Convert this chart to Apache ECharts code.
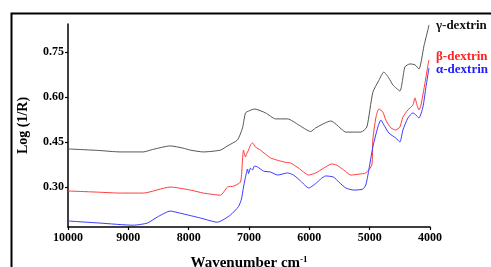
<!DOCTYPE html>
<html>
<head>
<meta charset="utf-8">
<script src="https://cdn.jsdelivr.net/npm/echarts@6/dist/echarts.min.js"></script>
<style>html,body{margin:0;padding:0;background:#fff}#c{width:491px;height:267px}</style>
</head>
<body>
<div id="c"></div>
<script>
// Wavenumber (cm-1) and Log(1/R) values
var gammaWn  = [10000,9500,9136,8753,8600,8305,8100,7972,7756,7474,7357,7191,7108,7058,7008,6909,6726,6560,6360,6177,5978,5895,5646,5450,5396,5147,5047,4948,4848,4765,4682,4615,4499,4416,4333,4249,4183,4100,4033,4017];
var gammaVal = [0.427,0.422,0.417,0.417,0.425,0.437,0.430,0.423,0.417,0.423,0.437,0.457,0.497,0.547,0.553,0.560,0.547,0.527,0.527,0.507,0.485,0.497,0.520,0.490,0.483,0.483,0.500,0.615,0.655,0.683,0.663,0.640,0.620,0.700,0.710,0.707,0.693,0.770,0.825,0.840];

var betaWn  = [10000,9500,9136,8753,8305,7972,7756,7474,7357,7257,7141,7108,7091,7058,7041,7008,6975,6942,6892,6809,6643,6410,6310,6177,6011,5895,5762,5629,5546,5430,5313,5180,5064,4965,4948,4898,4848,4782,4732,4649,4566,4499,4449,4366,4283,4249,4216,4183,4150,4083,4033,4017];
var betaVal = [0.287,0.283,0.280,0.280,0.300,0.290,0.280,0.273,0.300,0.303,0.317,0.390,0.423,0.400,0.410,0.423,0.440,0.447,0.433,0.423,0.397,0.383,0.380,0.363,0.340,0.347,0.363,0.377,0.373,0.357,0.340,0.343,0.347,0.373,0.457,0.530,0.560,0.550,0.523,0.497,0.490,0.500,0.533,0.557,0.573,0.597,0.573,0.557,0.573,0.647,0.707,0.723];

var alphaWn  = [10000,9468,8920,8687,8521,8305,8139,7806,7523,7307,7174,7125,7091,7058,7025,7008,6975,6942,6909,6859,6759,6643,6527,6360,6261,6144,6011,5862,5812,5729,5596,5513,5396,5263,5114,5064,5014,4948,4864,4815,4765,4682,4565,4499,4449,4366,4283,4233,4183,4117,4067,4017];
var alphaVal = [0.187,0.180,0.173,0.180,0.200,0.220,0.213,0.197,0.183,0.207,0.235,0.260,0.300,0.333,0.360,0.345,0.363,0.357,0.370,0.367,0.353,0.350,0.340,0.347,0.340,0.320,0.297,0.317,0.327,0.337,0.333,0.317,0.297,0.290,0.293,0.307,0.357,0.433,0.500,0.523,0.507,0.480,0.463,0.450,0.490,0.530,0.547,0.540,0.530,0.567,0.633,0.697];

var seriesNames = ['γ-dextrin','β-dextrin','α-dextrin'];
var yTicks = [0.30,0.45,0.60,0.75];

function pairs(xs, ys){ return xs.map(function(x,i){ return [x, ys[i]]; }); }

var FONT = 'Liberation Serif';
var chart = echarts.init(document.getElementById('c'), null, {renderer:'canvas'});

function mk(name, data, color, lblColor, offset){
  return {
    name: name, type: 'line', data: data, showSymbol: false, smooth: 0.2,
    lineStyle: {color: color, width: 1}, itemStyle:{color: color},
    emphasis: {disabled: true}, animation: false,
    endLabel: {show: true, formatter: name, color: lblColor, fontFamily: FONT,
      fontWeight: 'bold', fontSize: 13, distance: 6, align: 'left', offset: offset}
  };
}

chart.setOption({
  animation: false,
  backgroundColor: '#fff',
  grid: {left: 68, right: 61, top: 24, bottom: 40, outerBoundsMode: 'none', containLabel: false},
  graphic: [{type:'rect', left: 9, top: 11, shape:{width: 500, height: 300},
    style:{fill:'none', stroke:'#000', lineWidth: 2}, silent: true}],
  xAxis: {
    type: 'value', inverse: true, min: 4000, max: 10000, interval: 1000,
    name: '{a|Wavenumber cm}{s|-1}', nameLocation: 'middle', nameGap: 28,
    nameTextStyle: {rich: {
      a: {fontFamily: FONT, fontWeight: 'bold', fontSize: 15, color: '#000'},
      s: {fontFamily: FONT, fontWeight: 'bold', fontSize: 9, color: '#000', verticalAlign: 'top', padding:[0,0,8,0]}
    }},
    axisLine: {lineStyle: {color: '#000', width: 1.5}},
    axisTick: {show: true, length: 3, lineStyle: {color: '#000', width: 1.2}},
    axisLabel: {color: '#000', fontFamily: FONT, fontWeight: 'bold', fontSize: 12, margin: 5,
      formatter: function(v){ return String(v); }},
    splitLine: {show: false}
  },
  yAxis: {
    type: 'value', min: 0.167, max: 0.843,
    name: 'Log (1/R)', nameLocation: 'middle', nameGap: 38, nameRotate: 90,
    nameTextStyle: {fontFamily: FONT, fontWeight: 'bold', fontSize: 14, color: '#000'},
    axisLine: {show: true, lineStyle: {color: '#000', width: 1.5}},
    axisTick: {show: true, length: 3, customValues: yTicks, lineStyle: {color: '#000', width: 1.2}},
    axisLabel: {color: '#000', fontFamily: FONT, fontWeight: 'bold', fontSize: 12, margin: 4,
      customValues: yTicks, formatter: function(v){ return v.toFixed(2); }},
    splitLine: {show: false}
  },
  series: [
    mk(seriesNames[0], pairs(gammaWn, gammaVal), '#555555', '#111111', [13, 1]),
    mk(seriesNames[1], pairs(betaWn, betaVal), '#ff3c3c', '#ff2020', [13, -3]),
    mk(seriesNames[2], pairs(alphaWn, alphaVal), '#3a3aff', '#2020ff', [13, 2])
  ]
});
</script>
</body>
</html>
